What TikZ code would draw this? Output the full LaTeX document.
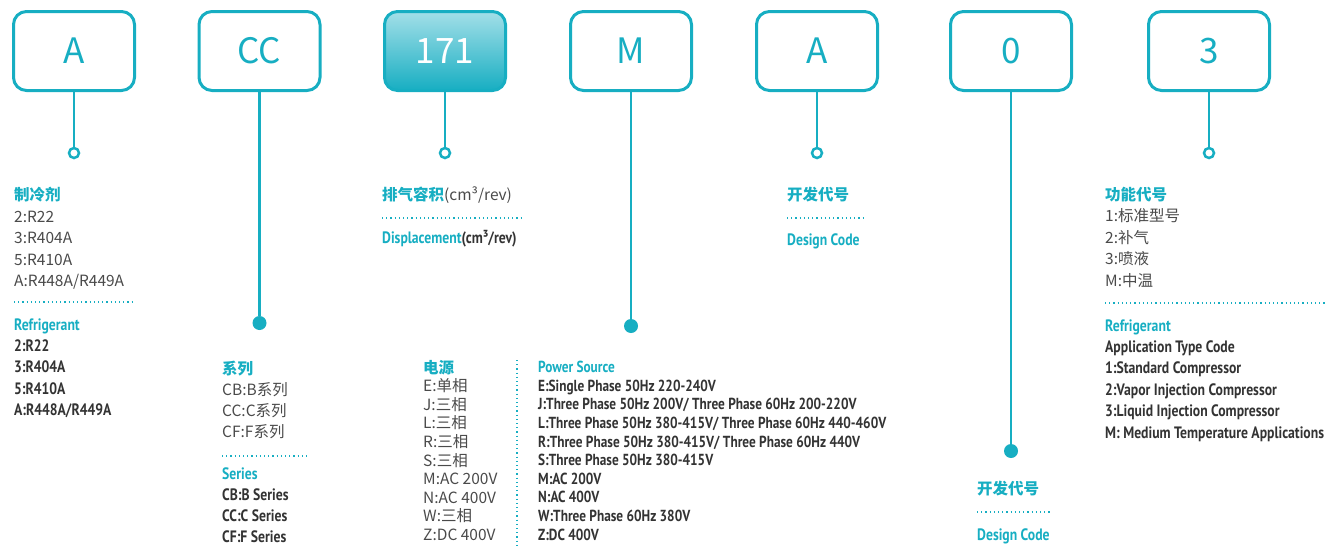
\documentclass[tikz,border=0pt]{standalone}
\usepackage{fontspec}
\usepackage{tikz}
\newfontfamily\cjk{Noto Sans CJK SC}
\newfontfamily\cond[FakeStretch=0.83]{PT Sans}
\definecolor{codeteal}{HTML}{17AEC2}
\definecolor{lightteal}{HTML}{A3DFE8}
\definecolor{textgray}{HTML}{4A4A4A}
\definecolor{boldgray}{HTML}{333333}
\tikzset{codebox/.style={draw=codeteal,line width=3pt,rounded corners=13pt,minimum width=121pt,minimum height=79pt,fill=white,text=codeteal,font=\cjk\fontsize{35}{35}\selectfont}}
\tikzset{hollow/.style={circle,draw=codeteal,line width=2.5pt,fill=white,minimum size=10pt,inner sep=0pt}}
\tikzset{fulldot/.style={circle,fill=codeteal,minimum size=14pt,inner sep=0pt}}
\tikzset{link/.style={codeteal,line width=2.5pt}}
\tikzset{sepline/.style={codeteal,line width=1.2pt,dash pattern=on 1.2pt off 3pt}}
\tikzset{cnline/.style={anchor=base west,inner sep=0pt,text=textgray,font=\cjk\fontsize{15.5}{15.5}\selectfont}}
\tikzset{cnhead/.style={anchor=base west,inner sep=0pt,text=codeteal,font=\cjk\bfseries\fontsize{15.5}{15.5}\selectfont}}
\tikzset{enline/.style={anchor=base west,inner sep=0pt,text=boldgray,font=\cond\bfseries\fontsize{16.5}{16.5}\selectfont}}
\tikzset{enhead/.style={enline,text=codeteal}}
\tikzset{pwline/.style={enline,font=\cond\bfseries\fontsize{16}{16}\selectfont}}
\begin{document}
\begin{tikzpicture}[x=1pt,y=-1pt]
\useasboundingbox (0,0) rectangle (1326,549);
% code boxes
\node [codebox] (bA)    at (74,51)    {A};
\node [codebox] (bCC)   at (259.5,51) {CC};
\node [codebox,top color=lightteal,bottom color=codeteal,text=white] (bDisp) at (445,51) {171};
\node [codebox] (bM)    at (631,51)   {M};
\node [codebox] (bA2)   at (817,51)   {A};
\node [codebox] (bZero) at (1011,51)  {0};
\node [codebox] (bFunc) at (1209,51)  {3};
% line ends
\node [hollow]  (eA)    at (74,153)    {};
\node [fulldot] (eCC)   at (259.5,323) {};
\node [hollow]  (eDisp) at (445,153)   {};
\node [fulldot] (eM)    at (631,326)   {};
\node [hollow]  (eA2)   at (817,153)   {};
\node [fulldot] (eZero) at (1011,451)  {};
\node [hollow]  (eFunc) at (1209,153)  {};
\foreach \from/\to in {bA/eA,bCC/eCC,bDisp/eDisp,bM/eM,bA2/eA2,bZero/eZero,bFunc/eFunc}
  \draw [link] (\from) -- (\to);
% refrigerant
\node [cnhead] (rc0) at (14,200.5) {制冷剂};
\foreach \t [count=\i] in {2:R22,3:R404A,5:R410A,A:R448A/R449A}
  \node [cnline] (rc\i) at (14,200.5+21.5*\i) {\t};
\draw [sepline] (14,302) -- (134,302);
\node [enhead] (re0) at (14,330) {Refrigerant};
\foreach \t [count=\i] in {2:R22,3:R404A,5:R410A,A:R448A/R449A}
  \node [enline] (re\i) at (14,330+21.4*\i) {\t};
% series
\node [cnhead] (sc0) at (222,374) {系列};
\foreach \t [count=\i] in {CB:B系列,CC:C系列,CF:F系列}
  \node [cnline] (sc\i) at (222,374+21.2*\i) {\t};
\draw [sepline] (222,456) -- (310,456);
\node [enhead] (se0) at (222,479) {Series};
\foreach \t [count=\i] in {CB:B Series,CC:C Series,CF:F Series}
  \node [enline] (se\i) at (222,479+21.3*\i) {\t};
% displacement
\node [cnline] (dc) at (382,200) {{\bfseries\color{codeteal}排气容积}(cm³/rev)};
\draw [sepline] (382,218) -- (522,218);
\node [enline] (de) at (382,243.5) {\textcolor{codeteal}{Displacement}(cm³/rev)};
% power source
\node [cnhead] (pc0) at (423,373) {电源};
\foreach \t [count=\i] in {E:单相,J:三相,L:三相,R:三相,S:三相,M:AC 200V,N:AC 400V,W:三相,Z:DC 400V}
  \node [cnline] (pc\i) at (423,373+18.6*\i) {\t};
\draw [sepline] (517,360) -- (517,545);
\node [pwline,text=codeteal] (pe0) at (538,372.7) {Power Source};
\foreach \t [count=\i] in {E:Single Phase 50Hz 220-240V,J:Three Phase 50Hz 200V/ Three Phase 60Hz 200-220V,L:Three Phase 50Hz 380-415V/ Three Phase 60Hz 440-460V,R:Three Phase 50Hz 380-415V/ Three Phase 60Hz 440V,S:Three Phase 50Hz 380-415V,M:AC 200V,N:AC 400V,W:Three Phase 60Hz 380V,Z:DC 400V}
  \node [pwline] (pe\i) at (538,372.7+18.6*\i) {\t};
% design code
\node [cnhead] (ac) at (787,200) {开发代号};
\draw [sepline] (787,218) -- (863,218);
\node [enhead] (ae) at (787,245) {Design Code};
\node [cnhead] (zc) at (977,494) {开发代号};
\draw [sepline] (977,512) -- (1052,512);
\node [enhead] (ze) at (977,540) {Design Code};
% function code
\node [cnhead] (fc0) at (1105,200) {功能代号};
\foreach \t [count=\i] in {1:标准型号,2:补气,3:喷液,M:中温}
  \node [cnline] (fc\i) at (1105,200+21.6*\i) {\t};
\draw [sepline] (1105,303) -- (1326,303);
\node [enhead] (fe0) at (1105,331) {Refrigerant};
\foreach \t [count=\i] in {Application Type Code,1:Standard Compressor,2:Vapor Injection Compressor,3:Liquid Injection Compressor,M: Medium Temperature Applications}
  \node [enline] (fe\i) at (1105,331+21.4*\i) {\t};
\end{tikzpicture}
\end{document}
